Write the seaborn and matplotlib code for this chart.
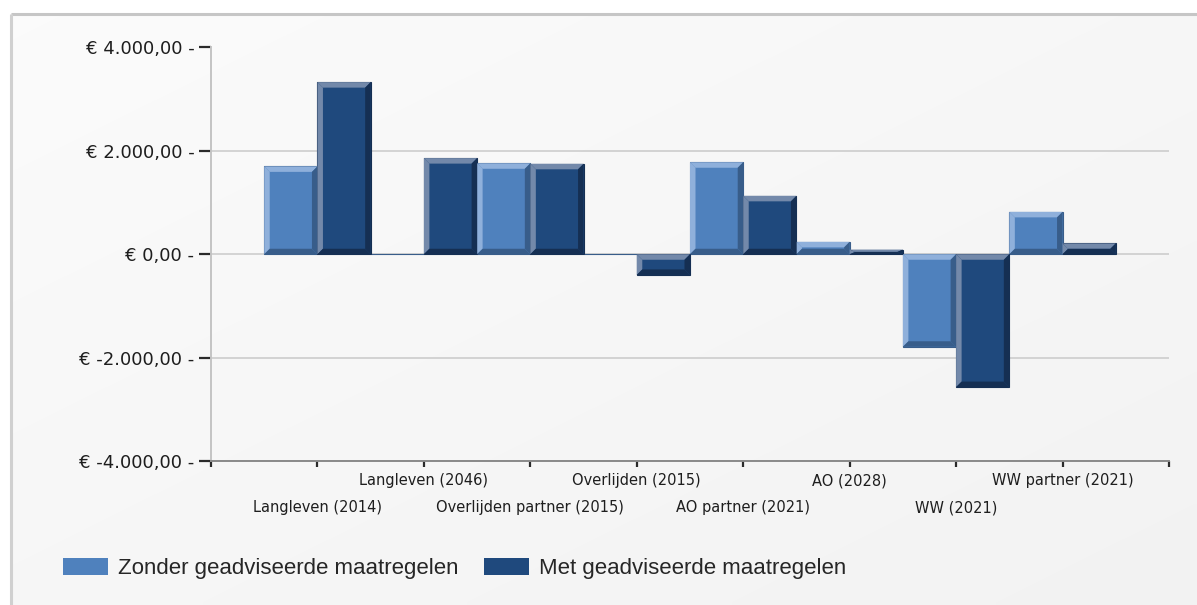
import numpy as np
import pandas as pd
import matplotlib
matplotlib.use("Agg")
import matplotlib.pyplot as plt
from matplotlib.patches import Polygon, Patch
import seaborn as sns

# Scenario results per risk (euro)
categorieen = [
    "Langleven (2014)", "Langleven (2046)", "Overlijden partner (2015)",
    "Overlijden (2015)", "AO partner (2021)", "AO (2028)",
    "WW (2021)", "WW partner (2021)",
]
zonder = [1700, 0, 1760, 0, 1780, 240, -1790, 820]
met = [3330, 1860, 1750, -400, 1130, 90, -2570, 210]
reeksen = ["Zonder geadviseerde maatregelen", "Met geadviseerde maatregelen"]

y_ticks = [4000, 2000, 0, -2000, -4000]
y_labels = ["€ 4.000,00", "€ 2.000,00", "€ 0,00", "€ -2.000,00", "€ -4.000,00"]

df = pd.DataFrame({
    "categorie": categorieen * 2,
    "waarde": zonder + met,
    "reeks": [reeksen[0]] * len(categorieen) + [reeksen[1]] * len(categorieen),
})

licht, donker = "#4f81bd", "#1f497d"
# (face, top/left bevel, bottom/right bevel)
tinten = [
    (licht, "#8fb0db", "#385d8a"),
    (donker, "#7389aa", "#152f53"),
]

sns.set_theme(style="white")
plt.rcParams["font.family"] = ["DejaVu Sans"]

W, H = 1197, 605
fig = plt.figure(figsize=(W / 100, H / 100), dpi=100)
fig.patch.set_facecolor("white")

# framed panel with a soft diagonal gradient
bg = fig.add_axes([0, 0, 1, 1], zorder=-5)
bg.set_xlim(0, W)
bg.set_ylim(H, 0)
bg.axis("off")
gx, gy = np.meshgrid(np.linspace(0, 1, 200), np.linspace(0, 1, 100))
grad = 0.985 - 0.035 * (0.5 * gx + 0.5 * gy)
bg.imshow(np.dstack([grad] * 3), extent=[10.5, W, H, 13.5], aspect="auto",
          interpolation="bilinear", zorder=0)
bg.plot([10.5, W], [13.5, 13.5], color="#c6c6c6", lw=2.2, zorder=1,
        solid_capstyle="butt")
bg.plot([10.5, 10.5], [13.5, H], color="#d0d0d0", lw=2.2, zorder=1,
        solid_capstyle="butt")

ax = fig.add_axes([211 / W, 1 - 461 / H, (1169 - 211) / W, (461 - 47.5) / H])
ax.set_facecolor("none")

sns.barplot(data=df, x="categorie", y="waarde", hue="reeks",
            order=categorieen, hue_order=reeksen, palette=[licht, donker],
            width=1.0, gap=0, saturation=1, errorbar=None, legend=False,
            ax=ax, zorder=2)

ax.set_xlim(-1, len(categorieen))
ax.set_ylim(-4000, 4000)

# bevelled edges on every bar
bx, by = 5.5 / 106.4, 5.5 * 8000 / 413.5
for cont, (face, hi, lo) in zip(ax.containers, tinten):
    for bar in cont:
        x0, w = bar.get_x(), bar.get_width()
        yb, hgt = bar.get_y(), bar.get_height()
        y0, y1 = min(yb, yb + hgt), max(yb, yb + hgt)
        x1 = x0 + w
        dx = min(bx, w / 2)
        dy = min(by, (y1 - y0) / 2)
        bar.set_edgecolor(lo)
        bar.set_linewidth(0.8)
        vlakken = [
            ([(x0, y1), (x1, y1), (x1 - dx, y1 - dy), (x0 + dx, y1 - dy)], hi),
            ([(x0, y0), (x0, y1), (x0 + dx, y1 - dy), (x0 + dx, y0 + dy)], hi),
            ([(x1, y0), (x1, y1), (x1 - dx, y1 - dy), (x1 - dx, y0 + dy)], lo),
            ([(x0, y0), (x1, y0), (x1 - dx, y0 + dy), (x0 + dx, y0 + dy)], lo),
        ]
        for pts, col in vlakken:
            ax.add_patch(Polygon(pts, closed=True, facecolor=col,
                                 edgecolor="none", zorder=3))

ax.set_axisbelow(True)
ax.yaxis.grid(True, color="#d3d3d3", lw=1.4)
ax.xaxis.grid(False)

for s in ("top", "right"):
    ax.spines[s].set_visible(False)
ax.spines["left"].set_color("#c4c4c4")
ax.spines["left"].set_linewidth(1.4)
ax.spines["bottom"].set_color("#8a8a8a")
ax.spines["bottom"].set_linewidth(1.4)

ax.set_yticks(y_ticks)
ax.set_yticklabels([t + " -" for t in y_labels])
ax.tick_params(axis="y", left=True, length=9, width=1.6, color="#2a2a2a",
               pad=3, labelsize=13, labelcolor="#1e1e1e")

ax.set_xticks(range(-1, len(categorieen) + 1))
ax.set_xticklabels([])
ax.tick_params(axis="x", bottom=True, length=4.5, width=1.6, color="#2a2a2a")
ax.set_xlabel("")
ax.set_ylabel("")

# category labels in two staggered rows
for i, lab in enumerate(categorieen):
    offset = -33.8 if i % 2 == 0 else -14.4
    ax.annotate(lab, xy=(i, 0), xycoords=("data", "axes fraction"),
                xytext=(0, offset), textcoords="offset points",
                ha="center", va="center", fontsize=10.5, color="#1e1e1e",
                annotation_clip=False)

handles = [Patch(facecolor=licht, edgecolor="none"),
           Patch(facecolor=donker, edgecolor="none")]
fig.legend(handles, reeksen, loc="center left",
           bbox_to_anchor=(63 / W, 1 - 568.5 / H), ncol=2, frameon=False,
           borderpad=0, borderaxespad=0, handlelength=2.03, handleheight=0.77,
           handletextpad=0.45, columnspacing=1.13,
           prop={"family": "Liberation Sans", "size": 16})

fig.savefig("out.png", dpi=100)
